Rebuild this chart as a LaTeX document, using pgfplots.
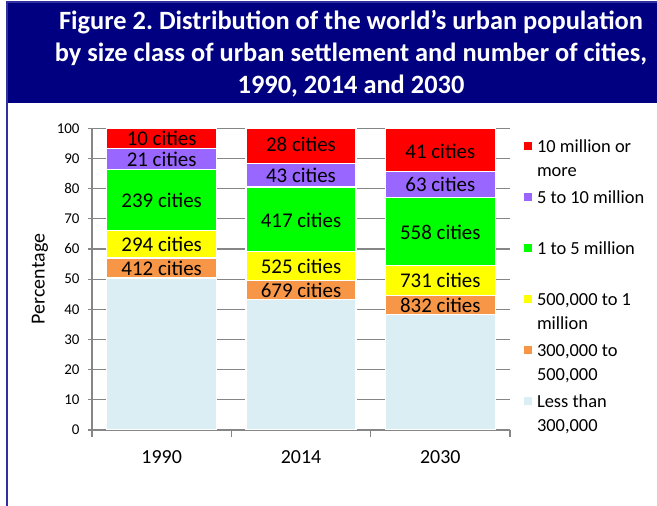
\documentclass[border=0pt]{standalone}
\usepackage{fontspec}
\setmainfont{Carlito}
\usepackage{pgfplots}
\pgfplotsset{compat=1.18}
\definecolor{navyb}{HTML}{000080}
\definecolor{borderc}{HTML}{3030A0}
\definecolor{axgray}{HTML}{868686}
\definecolor{cred}{HTML}{FF0000}
\definecolor{cpurple}{HTML}{9966FF}
\definecolor{cgreen}{HTML}{00FF00}
\definecolor{cyellow}{HTML}{FFFF00}
\definecolor{corange}{HTML}{F79646}
\definecolor{clight}{HTML}{DBEEF4}
\newcommand{\lent}[1]{\parbox[c][51bp][t]{120bp}{\strut #1}}
\begin{document}
\frenchspacing
\begin{tikzpicture}[x=1bp,y=1bp]
\useasboundingbox (0,0) rectangle (657,506);
\fill[white] (0,0) rectangle (657,506);
\fill[navyb] (7,403) rectangle (657,504);
\draw[borderc, line width=2bp] (7,0) -- (7,504) -- (657,504);
\node[text=white, font=\fontsize{26.5}{32}\selectfont\bfseries, align=center] at (351,452)
  {Figure 2. Distribution of the world’s urban population\\
   by size class of urban settlement and number of cities,\\
   1990, 2014 and 2030};
\begin{axis}[
  at={(92bp,76bp)}, anchor=south west,
  scale only axis, width=418bp, height=301.7bp,
  ybar stacked, bar width=110bp,
  xmin=-0.5, xmax=2.5, ymin=0, ymax=100,
  xtick={0,1,2}, xticklabels={1990,2014,2030},
  minor xtick={-0.5,0.5,1.5,2.5},
  ytick={0,10,...,100},
  axis x line*=bottom, axis y line*=left,
  axis line style={draw=axgray, line width=1.8bp},
  ymajorgrids, grid style={draw=axgray, line width=1.2bp},
  tick align=outside,
  major tick length=4bp, minor tick length=7bp,
  major x tick style={draw=none},
  minor x tick style={draw=axgray, line width=1.5bp},
  y tick style={draw=axgray, line width=1.2bp},
  /pgf/number format/assume math mode=true,
  yticklabel style={font=\fontsize{15}{18}\selectfont, xshift=-5bp},
  xticklabel style={font=\fontsize{20}{24}\selectfont, yshift=-13bp},
  ylabel={Percentage},
  ylabel style={font=\fontsize{20}{24}\selectfont, at={(axis description cs:-0.1244,0.5005)}, anchor=center},
  reverse legend,
  legend image code/.code={\fill[#1,draw=none] (0bp,1.7bp) rectangle (8bp,9.7bp); \path[fill=none,draw=none] (0bp,-25.5bp) rectangle (8bp,25.5bp);},
  legend style={at={(axis description cs:1.0335,1.007)}, anchor=north west, draw=none, fill=none,
    inner sep=0pt, outer sep=0pt, row sep=0pt, column sep=5bp,
    nodes={inner sep=0pt, outer sep=0pt},
    font=\fontsize{18.5}{24}\selectfont},
  legend cell align=left,
  every axis plot/.append style={draw=white, line width=1.5bp},
]
\addplot[fill=clight] coordinates {(0,50.3) (1,43.3) (2,38.3)};
\addplot[fill=corange] coordinates {(0,6.7) (1,6.2) (2,6.3)};
\addplot[fill=cyellow] coordinates {(0,9.1) (1,9.6) (2,9.9)};
\addplot[fill=cgreen] coordinates {(0,20.2) (1,21.5) (2,22.5)};
\addplot[fill=cpurple] coordinates {(0,7.0) (1,7.8) (2,8.6)};
\addplot[fill=cred] coordinates {(0,6.7) (1,11.6) (2,14.4)};
\addlegendentry{\lent{Less than\\300,000}}
\addlegendentry{\lent{300,000 to\\500,000}}
\addlegendentry{\lent{500,000 to 1\\million}}
\addlegendentry{\lent{1 to 5 million}}
\addlegendentry{\lent{5 to 10 million}}
\addlegendentry{\lent{10 million or\\more}}
\end{axis}
\begin{axis}[
  at={(92bp,76bp)}, anchor=south west,
  scale only axis, width=418bp, height=301.7bp,
  xmin=-0.5, xmax=2.5, ymin=0, ymax=100,
  hide axis, clip=false,
]
\addplot[only marks, mark=none, point meta=explicit symbolic,
  nodes near coords, every node near coord/.style={anchor=center, font=\fontsize{21}{24}\selectfont, inner sep=0pt}]
  table[meta=label, row sep=\\] {
  x y label\\
  0 53.65 {412 cities}\\
  0 61.55 {294 cities}\\
  0 76.2 {239 cities}\\
  0 89.8 {21 cities}\\
  0 96.65 {10 cities}\\
  1 46.4 {679 cities}\\
  1 54.3 {525 cities}\\
  1 69.6 {417 cities}\\
  1 84.3 {43 cities}\\
  1 94.8 {28 cities}\\
  2 41.2 {832 cities}\\
  2 49.5 {731 cities}\\
  2 65.6 {558 cities}\\
  2 81.3 {63 cities}\\
  2 92.2 {41 cities}\\
};
\end{axis}
\end{tikzpicture}
\end{document}
